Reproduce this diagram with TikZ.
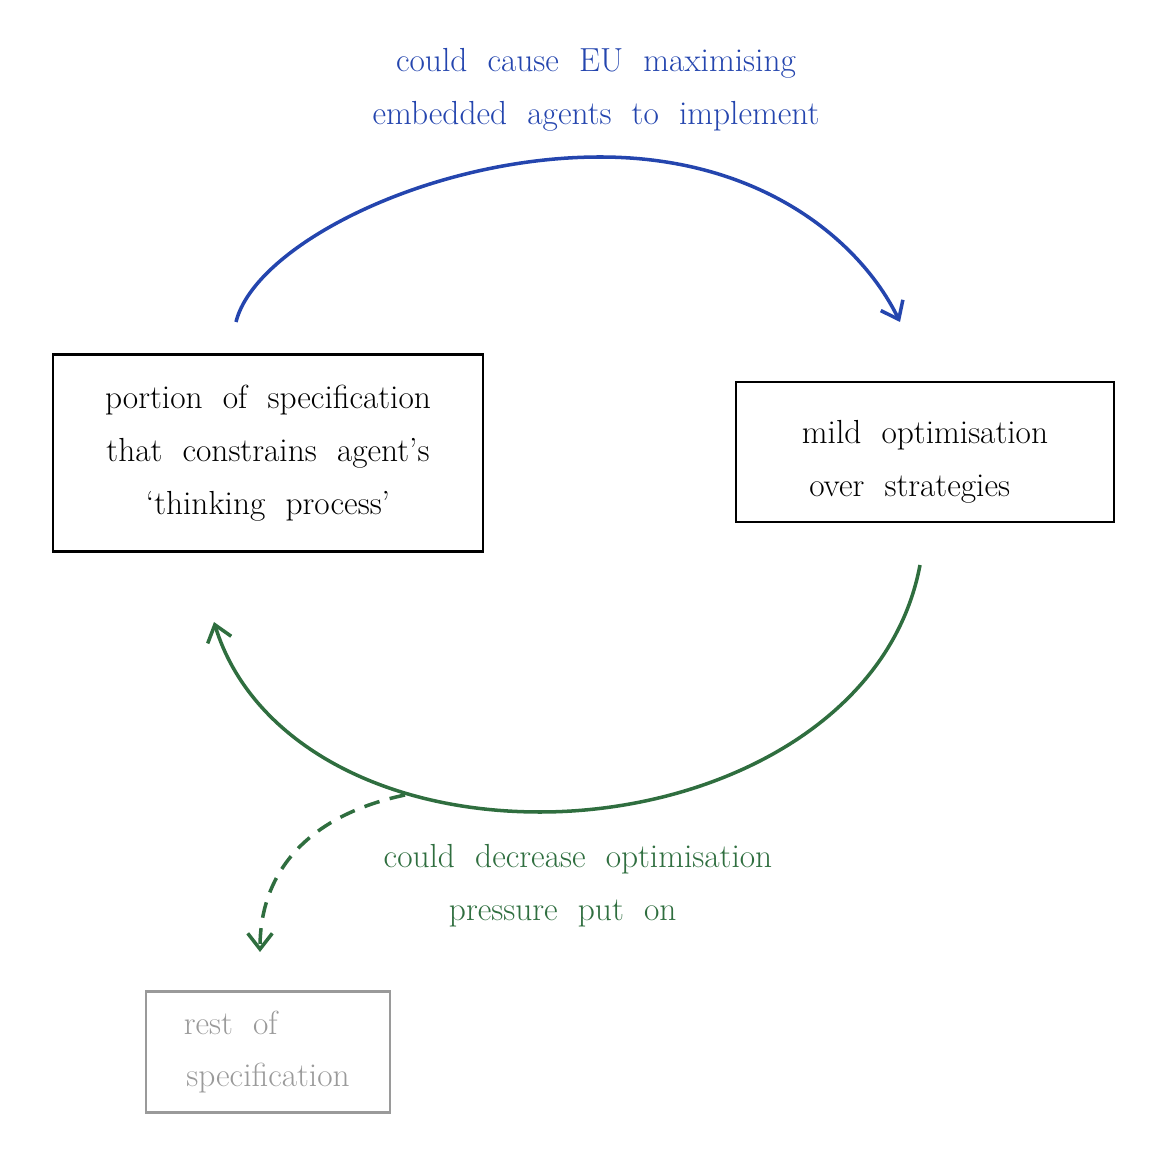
\documentclass[tikz,border=0pt]{standalone}
\usetikzlibrary{arrows.meta}
\definecolor{penblue}{HTML}{2445AE}
\definecolor{pengreen}{HTML}{2F6E3F}
\definecolor{pengrey}{HTML}{9A9A9A}
\tikzset{
  box/.style={draw,line width=1.2pt,align=center,inner sep=0pt},
  hand/.style={font=\fontsize{19}{30}\selectfont},
  bluearrow/.style={penblue,line width=2pt,-{Straight Barb[length=9pt,width=14pt]}},
  greenarrow/.style={pengreen,line width=2pt,-{Straight Barb[length=9pt,width=14pt]}},
}
\begin{document}
\begin{tikzpicture}[x=0.02cm,y=-0.02cm]
	\useasboundingbox (0,0) rectangle (1153,1151);
	% boxes
	\node[box,hand,minimum width=8.6cm,minimum height=3.94cm] (portion) at (268,453)
		{portion\ \ of\ \ specification\\ that\ \ constrains\ \ agent's\\ `thinking\ \ process'};
	\node[box,hand,minimum width=7.56cm,minimum height=2.8cm] (mild) at (925,452)
		{\rule{0pt}{24pt}mild\ \ optimisation\\ over\ \ strategies\hphantom{00}};
	\node[box,hand,pengrey,minimum width=4.88cm,minimum height=2.42cm] (rest) at (268,1052)
		{rest\ \ of\hphantom{specif}\\ specification};
	% labels
	\node[hand,penblue,align=center] (cause) at (596,90)
		{could\ \ cause\ \ EU\ \ maximising\\ embedded\ \ agents\ \ to\ \ implement};
	\node[hand,pengreen,align=center] (decrease) at (578,886)
		{could\ \ decrease\ \ optimisation\\ pressure\ \ put\ \ on\hphantom{00}};
	% arcs
	\coordinate (b1) at (236,322);
	\coordinate (b2) at (600,157);
	\coordinate (b3) at (900,322);
	\draw[bluearrow] (b1) .. controls (255,245) and (430,157) .. (b2)
		.. controls (760,157) and (860,240) .. (b3);
	\coordinate (g1) at (920,565);
	\coordinate (g2) at (540,812);
	\coordinate (g3) at (214,622);
	\coordinate (d1) at (405,795);
	\coordinate (d2) at (260,952);
	\draw[greenarrow] (g1) .. controls (890,725) and (710,812) .. (g2)
		.. controls (380,812) and (250,740) .. (g3);
	\draw[greenarrow,dashed,dash pattern=on 9pt off 6pt] (d1) .. controls (310,815) and (260,870) .. (d2);
\end{tikzpicture}
\end{document}
